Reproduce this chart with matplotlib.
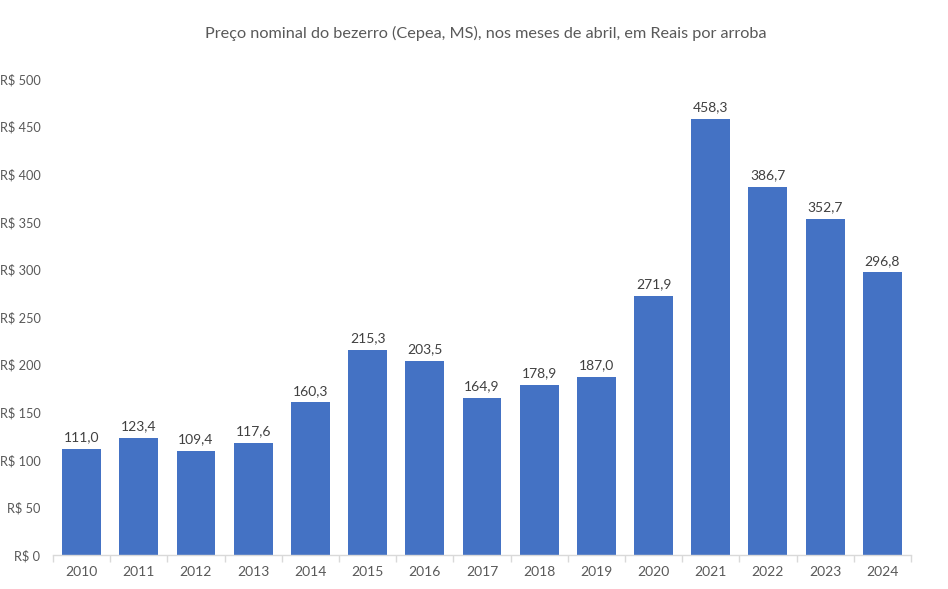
import matplotlib
matplotlib.use("Agg")
import matplotlib.pyplot as plt

years = ["2010", "2011", "2012", "2013", "2014", "2015", "2016", "2017",
         "2018", "2019", "2020", "2021", "2022", "2023", "2024"]
prices = [111.0, 123.4, 109.4, 117.6, 160.3, 215.3, 203.5, 164.9,
          178.9, 187.0, 271.9, 458.3, 386.7, 352.7, 296.8]
yticks = [0, 50, 100, 150, 200, 250, 300, 350, 400, 450, 500]
title = "Preço nominal do bezerro (Cepea, MS), nos meses de abril, em Reais por arroba"

plt.rcParams['font.family'] = ['Lato', 'DejaVu Sans']
txt = '#595959'

fig = plt.figure(figsize=(9.48, 5.89), dpi=100)
ax = fig.add_axes([0.0559, 0.0577, 0.905, 0.8083])
x = list(range(len(years)))
bars = ax.bar(x, prices, width=0.68, color='#4472C4', zorder=2)
for xi, v in zip(x, prices):
    ax.text(xi, v + 6, f"{v:.1f}".replace('.', ','), ha='center', va='bottom',
            fontsize=10, color='#404040')

ax.set_xlim(-0.5, len(years) - 0.5)
ax.set_ylim(0, 500)
ax.set_yticks(yticks)
ax.set_yticklabels([f"R$ {t}" for t in yticks], fontsize=9.2, color=txt)
ax.set_xticks(x)
ax.set_xticklabels(years, fontsize=10, color=txt)
ax.tick_params(axis='y', length=0, pad=9)
ax.tick_params(axis='x', length=0, pad=8)
# minor ticks between categories
ax.set_xticks([i - 0.5 for i in range(len(years) + 1)], minor=True)
ax.tick_params(axis='x', which='minor', length=5, color='#D9D9D9', width=1)
for s in ['top', 'right', 'left']:
    ax.spines[s].set_visible(False)
ax.spines['bottom'].set_color('#D9D9D9')
ax.spines['bottom'].set_linewidth(1)

fig.text(486 / 948, 1 - 33 / 589, title, ha='center', va='center', fontsize=11.7, color=txt)

fig.savefig("out.png", dpi=100)
